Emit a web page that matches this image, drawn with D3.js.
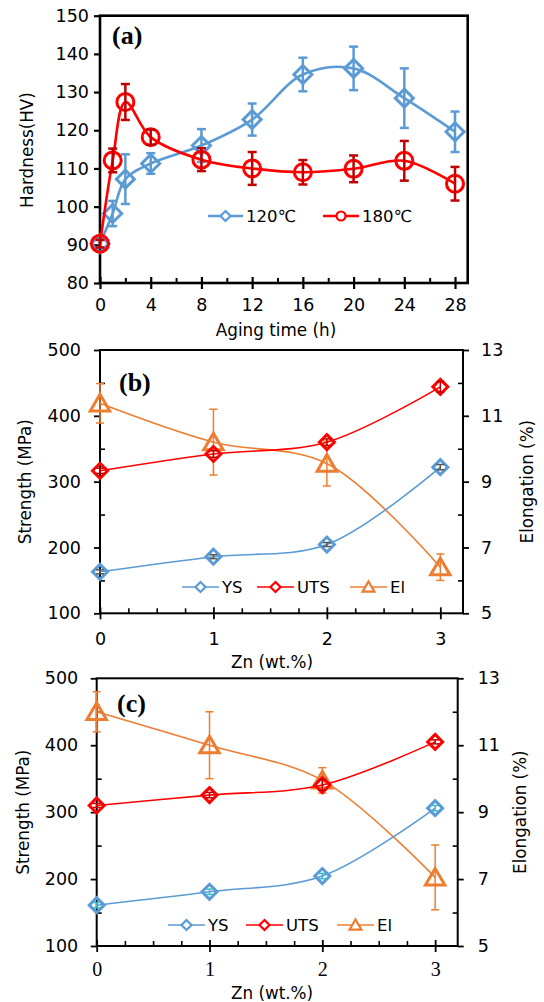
<!DOCTYPE html>
<html><head><meta charset="utf-8">
<script src="https://cdn.jsdelivr.net/npm/d3@7"></script>
<style>body{margin:0;background:#fff}</style>
</head><body>
<svg id="c" width="544" height="1002" xmlns="http://www.w3.org/2000/svg"></svg>
<script>
// ---------- data ----------
const hoursA = [0, 1, 2, 4, 8, 12, 16, 20, 24, 28];
const hv120 = [90.3, 98.2, 107.2, 111.3, 116.0, 122.8, 134.6, 136.2, 128.4, 119.6];
const hv120Err = [1.0, 3.3, 6.5, 2.7, 4.3, 4.2, 4.4, 5.7, 7.8, 5.3];
const hv180 = [90.3, 112.1, 127.4, 118.2, 112.3, 110.0, 109.0, 109.9, 112.0, 106.0];
const hv180Err = [1.0, 3.1, 4.7, 2.0, 3.0, 4.3, 3.2, 3.5, 5.2, 4.4];
const hoursTicks = [0, 4, 8, 12, 16, 20, 24, 28];
const hoursMinor = [2, 6, 10, 14, 18, 22, 26];
const hvTicks = [80, 90, 100, 110, 120, 130, 140, 150];
const seriesA = ["120\u2103", "180\u2103"];

const zn = [0, 1, 2, 3];
const ysB = [163, 186, 204.5, 322];
const ysBErr = [3, 3, 3, 4];
const utsB = [316.5, 342, 360, 444];
const utsBErr = [4, 5, 5, 8];
const elB = [11.38, 10.2, 9.55, 6.4];
const elBErr = [0.6, 1.0, 0.68, 0.4];

const ysC = [161, 181, 204.5, 306];
const ysCErr = [4, 4, 4, 4];
const utsC = [310, 325.5, 340.5, 405];
const utsCErr = [3, 4, 8, 3];
const elC = [12.0, 11.0, 9.95, 7.05];
const elCErr = [0.6, 1.0, 0.38, 0.97];

const znTicks = [0, 1, 2, 3];
const znMinor = [0.25, 0.5, 0.75, 1.25, 1.5, 1.75, 2.25, 2.5, 2.75];
const strengthTicks = [100, 200, 300, 400, 500];
const strengthMinor = [150, 250, 350, 450];
const elongTicks = [5, 7, 9, 11, 13];
const elongMinor = [6, 8, 10, 12];
const seriesBC = ["YS", "UTS", "El"];

// ---------- style ----------
const SANS = "DejaVu Sans";
const SERIF = "Liberation Serif";
const BLUE = "#5b9bd5", RED = "#ff0000", DARKRED = "#c00000", ORANGE = "#ed7d31", TEAL = "#3fb8c8";
const TICKFS = 17.5, TITLEFS = 16.8, TAGFS = 26;
const svg = d3.select("#c");

function shapePath(type, s) {
  if (type === "diamond") return `M0,${-s}L${s},0L0,${s}L${-s},0Z`;
  if (type === "triangle") return `M0,${-s}L${s*1.08},${s*0.85}L${-s*1.08},${s*0.85}Z`;
  if (type === "circle") return d3.arc()({innerRadius:0, outerRadius:s, startAngle:0, endAngle:2*Math.PI});
}

function drawSeries(g, xs, ys, errs, x, y, o) {
  const pts = xs.map((d, i) => [x(d), y(ys[i])]);
  g.append("path").attr("d", d3.line().curve(d3.curveCatmullRom.alpha(0.5))(pts))
    .attr("fill", "none").attr("stroke", o.color).attr("stroke-width", o.lw);
  const mg = g.append("g");
  pts.forEach(p => {
    mg.append("path").attr("d", shapePath(o.shape, o.ms))
      .attr("transform", `translate(${p[0]},${p[1]})`)
      .attr("fill", "none").attr("stroke", o.color).attr("stroke-width", o.mlw)
      .attr("stroke-linejoin", "miter");
  });
  const eg = g.append("g").attr("stroke", o.ecolor).attr("stroke-width", o.elw).attr("fill", "none");
  xs.forEach((d, i) => {
    const cx = x(d), y1 = y(ys[i] - errs[i]), y2 = y(ys[i] + errs[i]);
    eg.append("line").attr("x1", cx).attr("x2", cx).attr("y1", y1).attr("y2", y2);
    eg.append("line").attr("x1", cx - o.cap).attr("x2", cx + o.cap).attr("y1", y1).attr("y2", y1);
    eg.append("line").attr("x1", cx - o.cap).attr("x2", cx + o.cap).attr("y1", y2).attr("y2", y2);
  });
}

function legendItem(g, lx, ly, label, o) {
  g.append("line").attr("x1", lx).attr("x2", lx + o.len).attr("y1", ly).attr("y2", ly)
    .attr("stroke", o.color).attr("stroke-width", o.lw);
  g.append("path").attr("d", shapePath(o.shape, o.lms))
    .attr("transform", `translate(${lx + o.len/2},${ly})`)
    .attr("fill", "#fff").attr("stroke", o.color).attr("stroke-width", o.lmlw);
  g.append("text").attr("x", lx + o.len + 3).attr("y", ly).attr("dy", "0.36em")
    .attr("font-family", SANS).attr("font-size", o.fs).attr("fill", "#000").text(label);
}

function styleAxis(ax, family, size) {
  ax.attr("font-family", family).attr("font-size", size);
  ax.selectAll("text").attr("fill", "#000");
  ax.selectAll("line").attr("stroke", "#000");
  ax.select(".domain").remove();
}

// ---------- panel (a) ----------
{
  const L = 100, R = 467.7, T = 15.7, B = 283;
  const x = d3.scaleLinear().domain([0, 29]).range([L, R]);
  const y = d3.scaleLinear().domain([80, 150]).range([B, T]);
  const g = svg.append("g");
  const lw = 2.6;

  const axm = g.append("g").attr("transform", `translate(0,${B})`)
    .call(d3.axisBottom(x).tickValues(hoursMinor).tickSize(-5).tickFormat(""));
  styleAxis(axm, SANS, 16); axm.selectAll("line").attr("stroke-width", 2);
  const axx = g.append("g").attr("transform", `translate(0,${B})`)
    .call(d3.axisBottom(x).tickValues(hoursTicks).tickSize(6).tickFormat(d3.format("d")));
  styleAxis(axx, SANS, TICKFS);
  axx.selectAll("line").attr("y1", -6).attr("y2", 6).attr("stroke-width", 2.2);
  axx.selectAll("text").attr("y", 15).attr("dy", "0.72em");
  const axy = g.append("g").attr("transform", `translate(${L},0)`)
    .call(d3.axisLeft(y).tickValues(hvTicks).tickSize(6).tickPadding(5).tickFormat(d3.format("d")));
  styleAxis(axy, SANS, TICKFS);
  axy.selectAll("line").attr("stroke-width", 2.2);

  g.append("rect").attr("x", L).attr("y", T).attr("width", R - L).attr("height", B - T)
    .attr("fill", "none").attr("stroke", "#000").attr("stroke-width", lw);

  drawSeries(g, hoursA, hv120, hv120Err, x, y,
    {color: BLUE, ecolor: BLUE, lw: 2.6, shape: "diamond", ms: 9, mlw: 3, elw: 2.5, cap: 4.5});
  drawSeries(g, hoursA, hv180, hv180Err, x, y,
    {color: RED, ecolor: DARKRED, lw: 2.6, shape: "circle", ms: 8.5, mlw: 3, elw: 2.5, cap: 4.5});

  const lg = g.append("g");
  legendItem(lg, 208, 216, seriesA[0], {color: BLUE, lw: 2.6, shape: "diamond", lms: 5, lmlw: 2.2, len: 35, fs: 16.5});
  legendItem(lg, 323, 216, seriesA[1], {color: RED, lw: 2.6, shape: "circle", lms: 4.5, lmlw: 2.2, len: 36, fs: 16.5});

  g.append("text").attr("x", 112).attr("y", 44).attr("font-family", SERIF).attr("font-weight", "bold")
    .attr("font-size", TAGFS).text("(a)");
  g.append("text").attr("transform", `translate(33,150) rotate(-90)`).attr("text-anchor", "middle")
    .attr("font-family", SANS).attr("font-size", TITLEFS).text("Hardness(HV)");
  g.append("text").attr("x", 276).attr("y", 336).attr("text-anchor", "middle")
    .attr("font-family", SANS).attr("font-size", TITLEFS).text("Aging time (h)");
}

// ---------- panels (b), (c) ----------
function strengthPanel(cfg) {
  const {L, R, T, B} = cfg;
  const x = d3.scaleLinear().domain([0, 3.2]).range([L, R]);
  const y = d3.scaleLinear().domain([100, 500]).range([B, T]);
  const y2 = d3.scaleLinear().domain([5, 13]).range([B, T]);
  const g = svg.append("g");
  const fmt = d3.format("d");

  const axm = g.append("g").attr("transform", `translate(0,${B})`)
    .call(d3.axisBottom(x).tickValues(znMinor).tickSize(-5).tickFormat(""));
  styleAxis(axm, SANS, 16); axm.selectAll("line").attr("stroke-width", 1.6);
  const axx = g.append("g").attr("transform", `translate(0,${B})`)
    .call(d3.axisBottom(x).tickValues(znTicks).tickSize(6).tickFormat(fmt));
  styleAxis(axx, cfg.xFont, cfg.xFs);
  axx.selectAll("line").attr("y1", -6).attr("y2", 6).attr("stroke-width", 1.8);
  axx.selectAll("text").attr("y", cfg.xLabGap).attr("dy", "0.72em");

  const aym = g.append("g").attr("transform", `translate(${L},0)`)
    .call(d3.axisLeft(y).tickValues(strengthMinor).tickSize(-5).tickFormat(""));
  styleAxis(aym, SANS, 16); aym.selectAll("line").attr("stroke-width", 1.6);
  const ay = g.append("g").attr("transform", `translate(${L},0)`)
    .call(d3.axisLeft(y).tickValues(strengthTicks).tickSize(6).tickPadding(cfg.yPad).tickFormat(fmt));
  styleAxis(ay, SANS, TICKFS); ay.selectAll("line").attr("stroke-width", 1.8);

  const arm = g.append("g").attr("transform", `translate(${R},0)`)
    .call(d3.axisRight(y2).tickValues(elongMinor).tickSize(-5).tickFormat(""));
  styleAxis(arm, SANS, 16); arm.selectAll("line").attr("stroke-width", 1.6);
  const ar = g.append("g").attr("transform", `translate(${R},0)`)
    .call(d3.axisRight(y2).tickValues(elongTicks).tickSize(6).tickPadding(cfg.rPad).tickFormat(fmt));
  styleAxis(ar, SANS, TICKFS); ar.selectAll("line").attr("stroke-width", 1.8);

  g.append("rect").attr("x", L).attr("y", T).attr("width", R - L).attr("height", B - T)
    .attr("fill", "none").attr("stroke", "#000").attr("stroke-width", 2);

  const mo = {lw: 1.6, ms: 7.5, mlw: 3, elw: 1.5, cap: 4};
  drawSeries(g, zn, cfg.el, cfg.elErr, x, y2, {...mo, color: ORANGE, ecolor: ORANGE, shape: "triangle", ms: 9});
  drawSeries(g, zn, cfg.uts, cfg.utsErr, x, y, {...mo, color: RED, ecolor: DARKRED, shape: "diamond"});
  drawSeries(g, zn, cfg.ys, cfg.ysErr, x, y, {...mo, color: BLUE, ecolor: cfg.ysErrColor, shape: "diamond"});

  const lg = g.append("g");
  const lo = {lw: 1.6, lmlw: 2.2, len: 37, fs: 16.5};
  legendItem(lg, cfg.leg[0], cfg.legY, seriesBC[0], {...lo, color: BLUE, shape: "diamond", lms: 5});
  legendItem(lg, cfg.leg[1], cfg.legY, seriesBC[1], {...lo, color: RED, shape: "diamond", lms: 5});
  legendItem(lg, cfg.leg[2], cfg.legY, seriesBC[2], {...lo, color: ORANGE, shape: "triangle", lms: 5.5});

  g.append("text").attr("x", cfg.tagX).attr("y", cfg.tagY).attr("font-family", SERIF).attr("font-weight", "bold")
    .attr("font-size", TAGFS).text(cfg.tag);
  g.append("text").attr("transform", `translate(${cfg.ylx},${(T + B) / 2}) rotate(-90)`).attr("text-anchor", "middle")
    .attr("font-family", SANS).attr("font-size", TITLEFS).text("Strength (MPa)");
  g.append("text").attr("transform", `translate(${cfg.yrx},${(T + B) / 2}) rotate(-90)`).attr("text-anchor", "middle")
    .attr("font-family", SANS).attr("font-size", TITLEFS).text("Elongation (%)");
  g.append("text").attr("x", 272).attr("y", cfg.xtY).attr("text-anchor", "middle")
    .attr("font-family", SANS).attr("font-size", TITLEFS).text("Zn (wt.%)");
}

strengthPanel({L: 100, R: 463, T: 350, B: 613.3, ys: ysB, ysErr: ysBErr, uts: utsB, utsErr: utsBErr,
  el: elB, elErr: elBErr, ysErrColor: "#555", xFont: SANS, xFs: TICKFS, xLabGap: 19, yPad: 13, rPad: 12,
  leg: [182, 257, 350], legY: 587, tag: "(b)", tagX: 119, tagY: 391, ylx: 31, yrx: 533, xtY: 668});
strengthPanel({L: 96.7, R: 457.7, T: 678.3, B: 946, ys: ysC, ysErr: ysCErr, uts: utsC, utsErr: utsCErr,
  el: elC, elErr: elCErr, ysErrColor: TEAL, xFont: SERIF, xFs: 20, xLabGap: 16, yPad: 12.5, rPad: 14,
  leg: [168, 246, 337], legY: 925, tag: "(c)", tagX: 117, tagY: 712, ylx: 29, yrx: 526, xtY: 999});
</script>
</body></html>
